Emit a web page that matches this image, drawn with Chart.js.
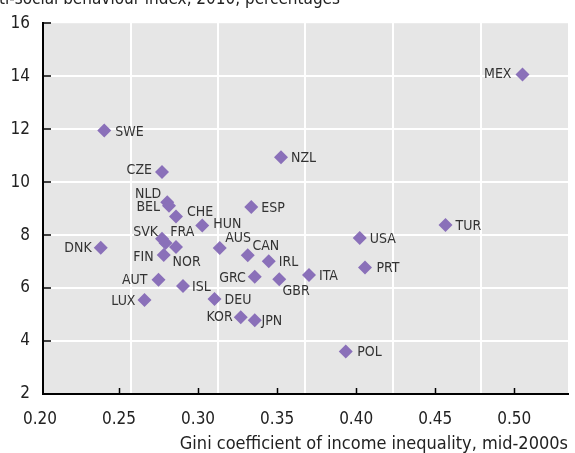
<!DOCTYPE html>
<html>
<head>
<meta charset="utf-8">
<script src="https://cdn.jsdelivr.net/npm/chart.js@4.4.1/dist/chart.umd.min.js"></script>
<style>
    html, body { margin: 0; padding: 0; background: #fff; overflow: hidden; }
    #wrap { position: relative; width: 575px; height: 453px; }
    #topTitle {
        position: absolute;
        top: -12px;
        right: 235px;
        white-space: nowrap;
        font: 17px "Liberation Sans Narrow", "DejaVu Sans Condensed", "Liberation Sans", sans-serif;
        color: #222;
    }
</style>
</head>
<body>
<div id="wrap">
    <div id="topTitle">Anti-social behaviour index, 2010, percentages</div>
    <canvas id="chart" width="575" height="453"></canvas>
</div>
<script>
// Chart data
const countries = ['DNK', 'SWE', 'LUX', 'AUT', 'CZE', 'SVK', 'FIN', 'FRA', 'NLD', 'BEL',
                   'CHE', 'NOR', 'ISL', 'HUN', 'DEU', 'AUS', 'KOR', 'CAN', 'ESP', 'JPN',
                   'GRC', 'IRL', 'GBR', 'NZL', 'ITA', 'POL', 'USA', 'PRT', 'TUR', 'MEX'];
const gini = [0.233, 0.235, 0.258, 0.266, 0.268, 0.268, 0.269, 0.270, 0.271, 0.272,
              0.276, 0.276, 0.280, 0.291, 0.298, 0.301, 0.313, 0.317, 0.319, 0.321,
              0.321, 0.329, 0.335, 0.336, 0.352, 0.373, 0.381, 0.384, 0.430, 0.474];
const antiSocial = [7.52, 11.95, 5.55, 6.31, 10.38, 7.86, 7.25, 7.70, 9.24, 9.11,
                    8.70, 7.55, 6.08, 8.36, 5.59, 7.51, 4.90, 7.24, 9.06, 4.78,
                    6.43, 7.01, 6.33, 10.94, 6.49, 3.60, 7.89, 6.78, 8.38, 14.06];
const xTickLabels = [0.20, 0.25, 0.30, 0.35, 0.40, 0.45, 0.50];
const xGridLines = [0.25, 0.30, 0.35, 0.40, 0.45];
const yTickLabels = [2, 4, 6, 8, 10, 12, 14, 16];

const xTitle = 'Gini coefficient of income inequality, mid-2000s';

const FONT = '"Liberation Sans Narrow", "DejaVu Sans Condensed", "Liberation Sans", sans-serif';
const PURPLE = '#8a70b9';

// label placement: labels go to the right unless listed here
const leftLabels = ['DNK', 'LUX', 'AUT', 'CZE', 'SVK', 'FIN', 'NLD', 'BEL', 'GRC', 'KOR', 'MEX'];
const labelNudge = {
    SWE: [11, 2], CHE: [11, -4], HUN: [11, -1.5], AUS: [5.5, -9.5], CAN: [4.7, -9.3],
    NOR: [-3.4, 15], FRA: [4.7, -10.3], GBR: [3.3, 11.6], JPN: [6.7, 1.4], ISL: [9, 1],
    PRT: [11.5, 1], POL: [11.5, 1], NLD: [-6, -8], SVK: [-4, -6.5], BEL: [-9, 2],
    MEX: [-11, 0], KOR: [-8, 0], GRC: [-9, 2], AUT: [-11, 1], CZE: [-10, -1.5], FIN: [-10, 2]
};

// Grey plotting area
const plotBackground = {
    id: 'plotBackground',
    beforeDraw(chart) {
        const { ctx, chartArea: a } = chart;
        ctx.save();
        ctx.fillStyle = '#e6e6e6';
        ctx.fillRect(a.left, a.top, a.right - a.left, a.bottom - a.top);
        ctx.restore();
    }
};

// Short tick marks drawn inside the plotting area
const innerTicks = {
    id: 'innerTicks',
    afterDraw(chart) {
        const { ctx, chartArea: a } = chart;
        const y = chart.scales.y;
        const xl = chart.scales.xLabels;
        ctx.save();
        ctx.strokeStyle = '#000';
        ctx.lineWidth = 1.5;
        ctx.beginPath();
        yTickLabels.forEach(v => {
            const py = Math.round(y.getPixelForValue(v));
            ctx.moveTo(a.left, py);
            ctx.lineTo(a.left + 8, py);
        });
        xTickLabels.forEach(v => {
            const px = Math.round(xl.getPixelForValue(v)) + 0.5;
            if (px <= a.left + 2) return;
            ctx.moveTo(px, a.bottom);
            ctx.lineTo(px, a.bottom - 6);
        });
        ctx.stroke();
        ctx.restore();
    }
};

// Country codes next to the markers
const pointLabels = {
    id: 'pointLabels',
    afterDatasetsDraw(chart) {
        const ctx = chart.ctx;
        const meta = chart.getDatasetMeta(0);
        ctx.save();
        ctx.font = '14px ' + FONT;
        ctx.fillStyle = '#333';
        ctx.textBaseline = 'middle';
        meta.data.forEach((pt, i) => {
            const code = countries[i];
            const left = leftLabels.includes(code);
            const [dx, dy] = labelNudge[code] || (left ? [-9, 1] : [10, 1]);
            ctx.textAlign = left ? 'right' : 'left';
            ctx.fillText(code, pt.x + dx, pt.y + dy);
        });
        ctx.restore();
    }
};

function initScatterChart() {
    const ctx = document.getElementById('chart').getContext('2d');

    const data = {
        datasets: [{
            label: 'Countries',
            data: gini.map((g, i) => ({ x: g, y: antiSocial[i] })),
            xAxisID: 'x',
            yAxisID: 'y',
            pointStyle: 'rectRot',
            pointRadius: 7,
            pointHoverRadius: 7,
            pointBackgroundColor: PURPLE,
            pointBorderWidth: 0,
            showLine: false
        }]
    };

    const config = {
        type: 'scatter',
        data: data,
        options: {
            responsive: false,
            animation: false,
            layout: {
                padding: { top: 18, right: 6, bottom: 0, left: 0 }
            },
            plugins: {
                legend: { display: false },
                tooltip: { enabled: false }
            },
            scales: {
                // data scale: only draws the white vertical grid
                x: {
                    type: 'linear',
                    position: 'top',
                    min: 0.2,
                    max: 0.5,
                    afterBuildTicks: s => { s.ticks = xGridLines.map(v => ({ value: v })); },
                    afterFit: s => { s.height = 0; },
                    ticks: { display: false },
                    grid: { color: '#fff', lineWidth: 2, drawTicks: false },
                    border: { display: false }
                },
                // axis with the printed tick labels and title
                xLabels: {
                    type: 'linear',
                    position: 'bottom',
                    min: 0.2019,
                    max: 0.534,
                    afterBuildTicks: s => { s.ticks = xTickLabels.map(v => ({ value: v })); },
                    afterFit: s => { s.height = 59; },
                    ticks: {
                        autoSkip: false,
                        maxRotation: 0,
                        padding: 15,
                        color: '#222',
                        font: { family: FONT, size: 17 },
                        callback: v => v.toFixed(2)
                    },
                    grid: { drawOnChartArea: false, drawTicks: false },
                    border: { color: '#000', width: 2 },
                    title: {
                        display: true,
                        text: xTitle,
                        align: 'end',
                        color: '#222',
                        font: { family: FONT, size: 18 },
                        padding: { top: 0, bottom: -2 }
                    }
                },
                y: {
                    type: 'linear',
                    position: 'left',
                    min: 2,
                    max: 16,
                    afterBuildTicks: s => { s.ticks = yTickLabels.map(v => ({ value: v })); },
                    afterFit: s => { s.width = 43; },
                    ticks: {
                        padding: 13,
                        color: '#222',
                        font: { family: FONT, size: 17 }
                    },
                    grid: {
                        color: c => (c.tick && (c.tick.value === 2 || c.tick.value === 16)) ? 'rgba(0,0,0,0)' : '#fff',
                        lineWidth: 2,
                        drawTicks: false
                    },
                    border: { color: '#000', width: 2 }
                }
            }
        },
        plugins: [plotBackground, innerTicks, pointLabels]
    };

    new Chart(ctx, config);
}

document.addEventListener('DOMContentLoaded', () => {
    initScatterChart();
});
</script>
</body>
</html>
